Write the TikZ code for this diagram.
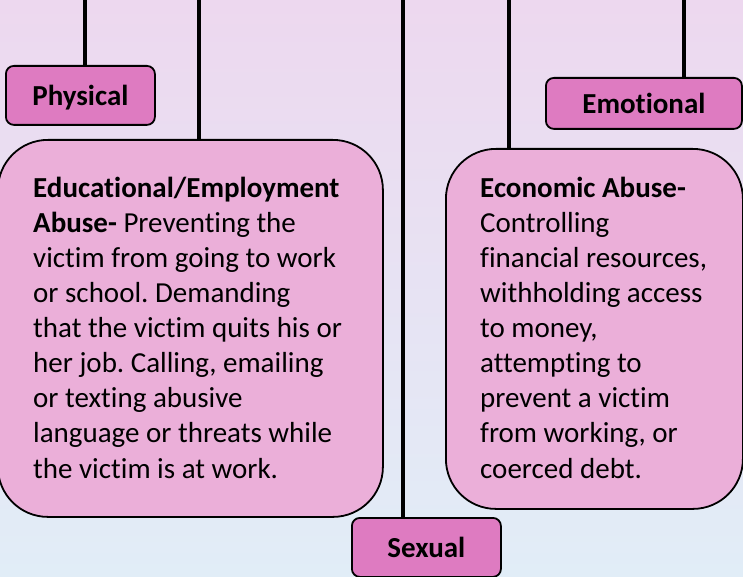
\documentclass[tikz,border=0pt]{standalone}
\usepackage{fontspec}
\setmainfont{Carlito}[Ligatures = NoCommon]
\frenchspacing
\definecolor{bgtop}{HTML}{EDD8EF}
\definecolor{bgbottom}{HTML}{E1EDF7}
\definecolor{catfill}{HTML}{DE7BC1}
\definecolor{infofill}{HTML}{EBAFD9}
\tikzset{
	catbox/.style = {draw = black, line width = 1.8pt, fill = catfill, rounded corners = 8pt, inner sep = 0pt, text depth = 0pt, font = \bfseries\fontsize{29}{33}\selectfont},
	infobox/.style = {draw = black, line width = 1.8pt, fill = infofill, rounded corners = 50pt, inner sep = 0pt},
	infotext/.style = {align = left, inner sep = 0pt, font = \fontsize{29}{35.1}\selectfont},
	link/.style = {line width = 4.5pt}
}
\begin{document}
\begin{tikzpicture}[x = 1pt, y = -1pt]
	\useasboundingbox (0,0) rectangle (743,577);
	\shade[top color = bgtop, bottom color = bgbottom] (0,0) rectangle (743,577);
	\coordinate (t1) at (85,0);
	\coordinate (t2) at (199,0);
	\coordinate (t3) at (403,0);
	\coordinate (t4) at (509,0);
	\coordinate (t5) at (684,0);
	\node[catbox, anchor = north west, minimum width = 149pt, minimum height = 59pt] (phys) at (5,65) {Physical};
	\node[catbox, anchor = north west, minimum width = 196pt, minimum height = 51pt] (emo) at (545,77) {Emotional};
	\node[catbox, anchor = north west, minimum width = 149pt, minimum height = 59pt] (sex) at (351,517) {Sexual};
	\node[infobox, anchor = north west, minimum width = 385pt, minimum height = 377pt] (edu) at (-3,139) {};
	\node[infobox, anchor = north west, minimum width = 297pt, minimum height = 360pt] (eco) at (445,148) {};
	\draw[link] (t1) -- (t1 |- phys.north);
	\draw[link] (t2) -- (t2 |- edu.north);
	\draw[link] (t3) -- (t3 |- sex.north);
	\draw[link] (t4) -- (t4 |- eco.north);
	\draw[link] (t5) -- (t5 |- emo.north);
	% base of a multi-line node is its last line
	\node[infotext, anchor = base west] (edutext) at (33,478) {\textbf{Educational/Employment}\\ \textbf{Abuse-} Preventing the\\ victim from going to work\\ or school. Demanding\\ that the victim quits his or\\ her job. Calling, emailing\\ or texting abusive\\ language or threats while\\ the victim is at work.};
	\node[infotext, anchor = base west] (ecotext) at (480,478) {\textbf{Economic Abuse-}\\ Controlling\\ financial resources,\\ withholding access\\ to money,\\ attempting to\\ prevent a victim\\ from working, or\\ coerced debt.};
\end{tikzpicture}
\end{document}
